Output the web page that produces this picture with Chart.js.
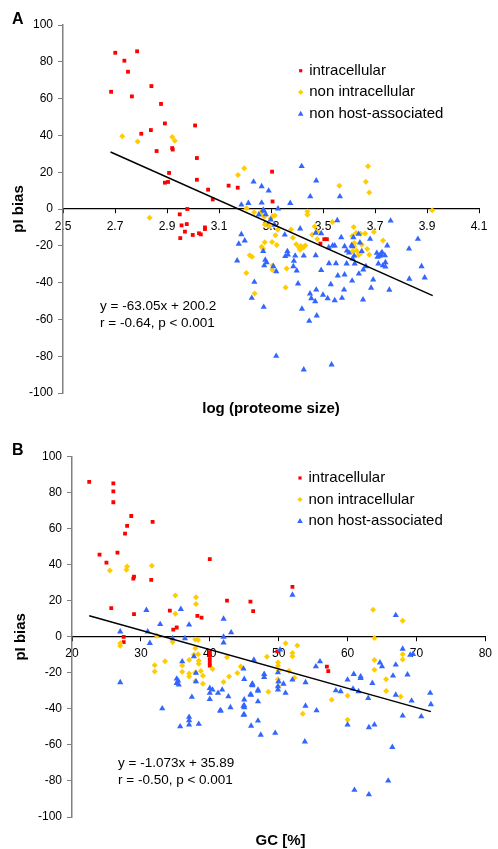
<!DOCTYPE html>
<html>
<head>
<meta charset="utf-8">
<script src="https://cdn.jsdelivr.net/npm/chart.js@4.4.0/dist/chart.umd.min.js"></script>
<style>
  html, body { margin: 0; padding: 0; background: #fff; }
  canvas { display: block; }
</style>
</head>
<body>
<canvas id="chartA" width="498" height="425"></canvas>
<canvas id="chartB" width="498" height="424"></canvas>
<script>
// panel A: pI bias vs log(proteome size)
const aIntracellular = [[2.685,63.7],[2.701,84.9],[2.736,80.6],[2.75,74.6],[2.785,85.7],[2.765,61.2],[2.84,66.8],[2.877,57.1],[2.892,46.5],[2.801,40.9],[2.838,42.9],[2.86,31.5],[2.92,33.1],[2.922,32.3],[2.908,19.6],[2.892,14.3],[2.904,14.7],[3.008,45.4],[3.015,27.7],[3.015,15.9],[3.058,10.5],[3.076,5.2],[3.137,12.7],[3.172,11.6],[2.978,0],[2.949,-2.9],[2.956,-8.9],[2.976,-8.2],[2.969,-12.3],[2.951,-15.8],[2.999,-14.1],[3.023,-13.2],[3.03,-13.8],[3.046,-10],[3.046,-10.9],[3.304,20.3],[3.306,4.1],[3.49,-18.8],[3.505,-16.4],[3.515,-16.4]];
const aNonIntracellular = [[2.728,39.5],[2.787,36.7],[2.92,39.1],[2.93,37.1],[3.173,18.5],[3.197,22.1],[3.206,0.4],[2.833,-4.7],[3.235,-1.8],[3.262,-1.6],[3.268,-2.7],[3.274,-4.2],[3.299,-5.1],[3.306,-4],[3.315,-3.5],[3.277,-8.4],[3.294,-9.4],[3.326,-11.3],[3.317,-14.3],[3.304,-17.9],[3.322,-19.6],[3.377,-11.1],[3.384,-15.6],[3.276,-18.1],[3.264,-20.5],[3.27,-21.7],[3.218,-25.2],[3.227,-25.9],[3.205,-34.8],[3.237,-45.9],[3.306,-30.7],[3.305,-33],[3.36,-32.4],[3.356,-42.6],[3.397,-19.2],[3.408,-20.9],[3.415,-20.1],[3.424,-20.9],[3.432,-19.9],[3.412,-22.1],[3.44,-1.3],[3.44,-3.1],[3.458,-14],[3.468,-9.5],[3.478,-12.2],[3.478,-16.3],[3.536,-7.1],[3.563,12.7],[3.618,-9.8],[3.627,-13],[3.612,-14.7],[3.645,-13.4],[3.662,-13.3],[3.696,-12.5],[3.731,-17.1],[3.62,-18.5],[3.62,-20.3],[3.649,-19.4],[3.629,-22.7],[3.614,-23],[3.67,-21.7],[3.678,-24.8],[3.646,-23.9],[3.636,-25.2],[3.673,23.2],[3.665,14.8],[3.678,9],[3.92,-0.7]];
const aNonHost = [[3.418,23.2],[3.474,15.4],[3.233,14.8],[3.264,12.3],[3.291,9.9],[3.451,6.8],[3.565,6.8],[3.213,3.2],[3.186,2.3],[3.264,3.4],[3.374,3.2],[3.327,0.2],[3.273,-1.1],[3.253,-3.1],[3.299,-5.8],[3.314,-8.7],[3.412,-10.7],[3.555,-6.2],[3.76,-6.4],[3.186,-13.8],[3.176,-19],[3.199,-17.2],[3.17,-28.1],[3.27,-23],[3.278,-27.7],[3.353,-14],[3.363,-23],[3.355,-25.7],[3.365,-24.8],[3.388,-28.3],[3.386,-31.2],[3.399,-33.5],[3.393,-25.4],[3.426,-25.4],[3.309,-31.2],[3.32,-33.9],[3.472,-13],[3.472,-25.2],[3.493,-13.3],[3.522,-20.9],[3.537,-19.9],[3.545,-19.9],[3.57,-15.4],[3.583,-20.3],[3.592,-22.7],[3.613,-20.3],[3.637,-13.6],[3.617,-15.4],[3.681,-16.3],[3.642,-18.3],[3.6,-23.8],[3.62,-25.4],[3.649,-23],[3.747,-19.9],[3.707,-23.9],[3.722,-24.5],[3.738,-25.2],[3.713,-29.7],[3.73,-30.7],[3.74,-31.4],[3.831,-21.6],[3.865,-16.3],[3.879,-31.2],[3.891,-37.3],[3.832,-38],[3.755,-44],[3.693,-38.4],[3.685,-42.9],[3.655,-33],[3.654,-49.3],[3.614,-27],[3.622,-29.7],[3.591,-29.7],[3.583,-35.7],[3.612,-39],[3.638,-35.2],[3.665,-31.2],[3.55,-29.6],[3.523,-29.6],[3.557,-36.2],[3.493,-33.2],[3.53,-41],[3.581,-43.9],[3.573,-48.4],[3.545,-49.7],[3.518,-48.6],[3.5,-46.7],[3.474,-43.9],[3.47,-50.2],[3.45,-46],[3.455,-48.6],[3.419,-54.3],[3.476,-58],[3.447,-60.9],[3.404,-40.6],[3.32,-79.9],[3.426,-87.3],[3.533,-84.6],[3.272,-53.3],[3.226,-48.4],[3.236,-39.7],[3.283,-29],[3.274,-30.7],[3.27,-0.5],[3.28,-3],[3.718,-25.5],[3.727,-23.5],[3.71,-26],[3.74,-29],[3.61,-19.8]];
const aTrend = [[2.683,31.0],[3.922,-47.1]];
const aXTicks = [2.5,2.7,2.9,3.1,3.3,3.5,3.7,3.9,4.1];

// panel B: pI bias vs GC content
const bIntracellular = [[22.5,86],[26,85.2],[26,80.8],[26,74.7],[28.6,67.1],[28,61.6],[27.7,57.3],[31.7,63.8],[24,45.6],[26.6,46.8],[25,41.2],[29,33.4],[28.9,32.3],[31.5,31.6],[25.7,15.9],[29,12.6],[34.2,14.6],[34.7,4],[35.2,5.2],[38.2,11.6],[38.8,10.7],[40,43.1],[42.5,20.1],[27.5,0],[27.5,-2.9],[40,-8.5],[40,-10.5],[40,-12.5],[40,-14.5],[40,-16],[45.9,19.6],[46.3,14.3],[52,27.7],[49.8,-8.1],[57,-16.5],[57.2,-19]];
const bNonIntracellular = [[25.5,36.8],[28,39],[27.9,37.3],[31.6,39.5],[35,22.9],[35,12.8],[38,22],[38,18.3],[32.3,0.6],[34.6,-2.8],[37.9,-1.5],[38.3,-1.8],[27,-3.5],[27,-5],[37.9,-6.3],[38.3,-9.6],[32,-15.7],[32,-19.2],[33.5,-13.5],[37,-12.8],[38.4,-13.3],[38.4,-15],[37.7,-10],[36,-15.9],[36,-19.4],[37,-20.4],[37,-22],[37.9,-19.8],[38.7,-18.9],[39,-21.6],[39,-26],[37.9,-24.6],[40.4,-17.9],[42,-25],[42.8,-22],[42.5,-11.3],[44,-20.1],[44.5,-16.5],[51,-3.5],[52.7,-4.8],[52,-9],[52,-10.7],[48.3,-11.1],[49.9,-14.3],[49.9,-16.1],[50,-18.7],[51.5,-18.9],[52.3,-22.7],[49.9,-23.5],[49.9,-25.3],[49.9,-27.6],[48.5,-30.5],[53.5,-42.7],[57.7,-34.9],[60,-32.7],[60,-46],[63.7,15],[63.9,-0.7],[63.9,-12.8],[63.9,-18.3],[65.6,-23.5],[65.6,-30],[68,8.9],[68,-9.6],[68,-12.6],[67.7,-33.1]];
const bNonHost = [[30.8,14.8],[35.8,15.4],[32.8,7],[37,6.7],[42,10],[43.1,2.4],[27,2.9],[31,2.9],[31.3,-3.5],[34.6,-0.9],[36.4,-0.9],[42,0],[42,-3.2],[27,-25.3],[33.1,-39.8],[35.7,-49.8],[37,-44.5],[37,-46.4],[37,-48.8],[38.4,-48.4],[37.4,-33.4],[35.2,-23.3],[35.2,-25.7],[35.4,-24.4],[35.5,-26.6],[36,-13.7],[37.7,-10.9],[38,-20.1],[38,-24.8],[40,-28.5],[40,-31.2],[40,-34.6],[40.4,-29.4],[41.2,-31.2],[41.8,-29.4],[42.7,-33.1],[41.6,-41],[43,-39.2],[44.9,-38.3],[44.9,-43.3],[45,-34.9],[44.9,-17.7],[45,-23.5],[46,-32.2],[46.1,-26.5],[46,-49.4],[47,-29.4],[46.4,-12.8],[52,23.3],[67,12],[68,-6.7],[69.1,-10],[69.5,-9.6],[50.2,-7.2],[56,-13.7],[55.4,-16.5],[47.9,-20.7],[47.9,-22.4],[46.2,-26.1],[46.2,-27],[47,-30],[45.9,-32],[45,-38.1],[45,-39.2],[45,-43.1],[47,-35.9],[47,-46.6],[47.4,-54.4],[41.5,-41],[49.9,-19.8],[49.9,-27.6],[49.9,-29.4],[50,-24.8],[50.7,-26.1],[51,-31.2],[52,-23.8],[53.9,-25.3],[53.9,-38.3],[55.5,-40.9],[53.8,-58.2],[49.5,-53.4],[58.3,-29.8],[59,-30.3],[60,-23.8],[60.9,-20.7],[61.9,-22],[61.9,-22.9],[60.8,-28.8],[61.6,-30.3],[63,-34],[60,-48.8],[63.1,-50.3],[63.9,-48.8],[63.6,-25.7],[64.7,-14.3],[65,-16.5],[66.6,-21.6],[67,-15.5],[68.7,-21],[67,-32.2],[68,-43.8],[69.3,-35.5],[70.7,-44.2],[72,-31.2],[72.1,-37.5],[66.5,-61.2],[65.9,-79.9],[61,-85],[63.1,-87.5]];
const bTrend = [[22.5,11.7],[72.1,-41.5]];
const bXTicks = [20,30,40,50,60,70,80];

const yTicks = [-100,-80,-60,-40,-20,0,20,40,60,80,100];
const seriesNames = ['intracellular', 'non intracellular', 'non host-associated'];

const FONT = "'Liberation Sans', Arial, Helvetica, sans-serif";
const RED = '#FF0000', YELLOW = '#FFCC00', BLUE = '#3366FF';
Chart.defaults.font.family = FONT;
Chart.defaults.color = '#000';

function toPoints(arr) {
  return arr.map(p => ({ x: p[0], y: p[1] }));
}

function marker(ctx, kind, x, y, color) {
  ctx.fillStyle = color;
  ctx.beginPath();
  if (kind === 'rect') {
    ctx.rect(x - 1.6, y - 1.6, 3.2, 3.2);
  } else if (kind === 'diamond') {
    ctx.moveTo(x, y - 2.6); ctx.lineTo(x + 2.6, y); ctx.lineTo(x, y + 2.6); ctx.lineTo(x - 2.6, y);
  } else {
    ctx.moveTo(x, y - 3); ctx.lineTo(x + 2.8, y + 2); ctx.lineTo(x - 2.8, y + 2);
  }
  ctx.closePath();
  ctx.fill();
}

// letter, x-axis title, regression text and legend
const panelText = {
  id: 'panelText',
  afterDraw(chart, args, o) {
    const ctx = chart.ctx;
    ctx.save();
    ctx.fillStyle = '#000';
    ctx.textBaseline = 'middle';
    ctx.textAlign = 'left';
    ctx.font = 'bold 16px ' + FONT;
    ctx.fillText(o.letter, 12, o.letterY);
    ctx.textAlign = 'center';
    ctx.font = 'bold 15px ' + FONT;
    ctx.fillText(o.xTitle, o.xTitleX, o.xTitleY);
    ctx.textAlign = 'left';
    ctx.font = '13.5px ' + FONT;
    o.eq.forEach((t, i) => ctx.fillText(t, o.eqX, o.eqY + i * 17));
    ctx.font = '15px ' + FONT;
    const kinds = ['rect', 'diamond', 'triangle'];
    const colors = [RED, YELLOW, BLUE];
    seriesNames.forEach((name, i) => {
      const y = o.legY + i * 21.5;
      marker(ctx, kinds[i], o.legX, y, colors[i]);
      ctx.fillStyle = '#000';
      ctx.fillText(name, o.legX + 8.5, y);
    });
    ctx.restore();
  }
};

function buildChart(id, cfg) {
  return new Chart(document.getElementById(id), {
    type: 'scatter',
    data: {
      datasets: [
        { label: 'trend', data: toPoints(cfg.trend), showLine: true, borderColor: '#000', borderWidth: 1.5, pointRadius: 0, order: 0 },
        { label: seriesNames[2], data: toPoints(cfg.host), pointStyle: 'triangle', pointRadius: 3.6, backgroundColor: BLUE, borderWidth: 0, order: 1 },
        { label: seriesNames[1], data: toPoints(cfg.nonIntra), pointStyle: 'rectRot', pointRadius: 3, backgroundColor: YELLOW, borderWidth: 0, order: 2 },
        { label: seriesNames[0], data: toPoints(cfg.intra), pointStyle: 'rect', pointRadius: 2.7, backgroundColor: RED, borderWidth: 0, order: 3 }
      ]
    },
    plugins: [panelText],
    options: {
      responsive: false,
      animation: false,
      events: [],
      layout: { padding: cfg.padding },
      plugins: {
        legend: { display: false },
        tooltip: { enabled: false },
        panelText: cfg.text
      },
      scales: {
        x: {
          type: 'linear',
          position: { y: 0 },
          min: cfg.xTicks[0],
          max: cfg.xTicks[cfg.xTicks.length - 1],
          afterBuildTicks: s => { s.ticks = cfg.xTicks.map(v => ({ value: v })); },
          afterFit: s => { s.height = 0; },
          grid: { drawOnChartArea: false, drawTicks: true, tickLength: 4, color: '#000', lineWidth: 1 },
          border: { display: true, color: '#000', width: 1.2 },
          ticks: { font: { size: 12 }, color: '#000', padding: 6, maxRotation: 0, autoSkip: false, callback: cfg.xFmt }
        },
        y: {
          type: 'linear',
          position: 'left',
          min: -100,
          max: 100,
          afterBuildTicks: s => { s.ticks = yTicks.map(v => ({ value: v })); },
          afterFit: s => { s.width = cfg.yWidth; },
          grid: { drawOnChartArea: false, drawTicks: true, tickLength: 5, color: '#808080', lineWidth: 1 },
          border: { display: true, color: '#808080', width: 1.5 },
          ticks: { font: { size: 12 }, color: '#000', padding: 5, autoSkip: false },
          title: { display: true, text: 'pI bias', font: { size: 15, weight: 'bold' }, color: '#000', padding: { top: cfg.yTitlePad, bottom: 0 } }
        }
      }
    }
  });
}

buildChart('chartA', {
  intra: aIntracellular, nonIntra: aNonIntracellular, host: aNonHost, trend: aTrend,
  xTicks: aXTicks, xFmt: v => Number(v).toFixed(1),
  padding: { left: 0, top: 25, right: 19, bottom: 32 }, yWidth: 63, yTitlePad: 10,
  text: {
    letter: 'A', letterY: 19.5,
    xTitle: 'log (proteome size)', xTitleX: 271, xTitleY: 409,
    eq: ['y = -63.05x + 200.2', 'r = -0.64, p < 0.001'], eqX: 100, eqY: 306,
    legX: 300.7, legY: 70.7
  }
});

buildChart('chartB', {
  intra: bIntracellular, nonIntra: bNonIntracellular, host: bNonHost, trend: bTrend,
  xTicks: bXTicks, xFmt: v => String(v),
  padding: { left: 0, top: 31.7, right: 9, bottom: 32 }, yWidth: 72, yTitlePad: 11.5,
  text: {
    letter: 'B', letterY: 26,
    xTitle: 'GC [%]', xTitleX: 280.5, xTitleY: 415.5,
    eq: ['y = -1.073x + 35.89', 'r = -0.50, p < 0.001'], eqX: 118, eqY: 338,
    legX: 300, legY: 53
  }
});
</script>
</body>
</html>
